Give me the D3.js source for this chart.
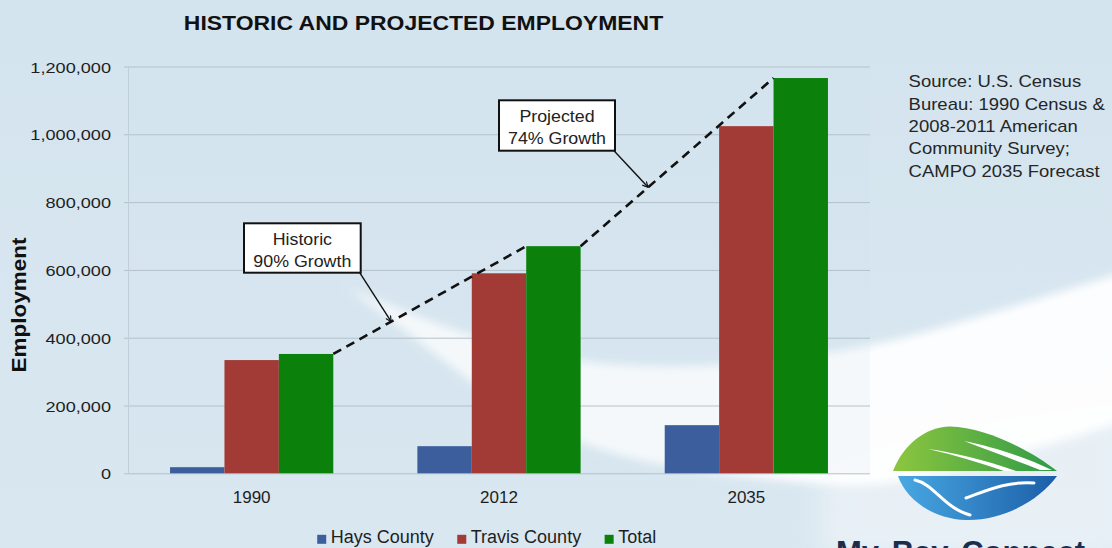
<!DOCTYPE html>
<html>
<head>
<meta charset="utf-8">
<script src="https://cdn.jsdelivr.net/npm/d3@7"></script>
<style>
  html, body { margin: 0; padding: 0; background: #d7e6ef; }
  svg { display: block; font-family: "Liberation Sans", Arial, Helvetica, sans-serif; }
</style>
</head>
<body>
<svg id="chart" width="1112" height="548"></svg>
<script>
// ---- data -------------------------------------------------------------
const years = ["1990", "2012", "2035"];
const seriesNames = ["Hays County", "Travis County", "Total"];
const haysCounty = [18000, 80000, 142000];
const travisCounty = [334000, 590000, 1024000];
const totalEmployment = [352000, 670000, 1166000];
const yTicks = [0, 200000, 400000, 600000, 800000, 1000000, 1200000];
const seriesColors = ["#3d5e9c", "#a23a36", "#0b800b"];
const sourceLines = [
  "Source: U.S. Census",
  "Bureau: 1990 Census &",
  "2008-2011 American",
  "Community Survey;",
  "CAMPO 2035 Forecast"
];

// ---- layout -----------------------------------------------------------
const W = 1112, H = 548;
const plot = { left: 128, right: 870, top: 66.5, bottom: 473.3 };

const svg = d3.select("#chart");
const defs = svg.append("defs");

// background wash
const bg = defs.append("linearGradient").attr("id", "bgGrad")
  .attr("x1", 0).attr("y1", 0).attr("x2", 0).attr("y2", 1);
bg.append("stop").attr("offset", 0).attr("stop-color", "#d4e4ee");
bg.append("stop").attr("offset", 1).attr("stop-color", "#d9e7f0");
svg.append("rect").attr("width", W).attr("height", H).attr("fill", "url(#bgGrad)");

// soft white sweep across the backdrop
defs.append("filter").attr("id", "soft").attr("x", "-20%").attr("y", "-50%")
  .attr("width", "140%").attr("height", "200%")
  .append("feGaussianBlur").attr("stdDeviation", 5);
defs.append("filter").attr("id", "softer").attr("x", "-20%").attr("y", "-50%")
  .attr("width", "140%").attr("height", "200%")
  .append("feGaussianBlur").attr("stdDeviation", 14);
const sweepTop = [[345, 286], [450, 328], [560, 358], [700, 366], [870, 345], [1000, 310], [1130, 270]];
const sweepBottom = [[1130, 420], [1000, 458], [880, 484], [760, 478], [620, 455], [520, 414], [420, 342]];
const curve = d3.line().curve(d3.curveCatmullRom);
// faint halo below the sweep, around the emblem
svg.append("path")
  .attr("d", "M820,470 C900,430 1000,420 1130,400 L1130,560 L820,560 Z")
  .attr("fill", "#eef4f8").attr("opacity", 0.7).attr("filter", "url(#softer)");
svg.append("path")
  .attr("d", curve(sweepTop) + "L" + curve(sweepBottom).slice(1) + "Z")
  .attr("fill", "#ffffff").attr("opacity", 0.95).attr("filter", "url(#soft)");

// ---- scales -----------------------------------------------------------
const x0 = d3.scaleBand().domain(years).range([plot.left, plot.right])
  .paddingInner(0.34).paddingOuter(0.17);
const x1 = d3.scaleBand().domain(seriesNames).range([0, x0.bandwidth()]).padding(0);
const y = d3.scaleLinear().domain([0, 1200000]).range([plot.bottom, plot.top]);

// a faint tint over the plotting area
svg.append("rect")
  .attr("x", plot.left).attr("y", plot.top).attr("width", plot.right - plot.left)
  .attr("height", plot.bottom - plot.top).attr("fill", "#d4e4ee").attr("opacity", 0.18);

// helper: text with a horizontal stretch factor
function stretchText(parent, x, y, str, size, sx, opts = {}) {
  return parent.append("text")
    .attr("transform", `translate(${x},${y}) scale(${sx},1)`)
    .attr("text-anchor", opts.anchor || "start")
    .attr("font-size", size)
    .attr("font-weight", opts.weight || "normal")
    .attr("fill", opts.fill || "#1e1e1e")
    .text(str);
}

// ---- gridlines & axes -------------------------------------------------
svg.append("g").selectAll("line").data(yTicks).join("line")
  .attr("x1", plot.left - 4).attr("x2", plot.right)
  .attr("y1", d => y(d) + 0.5).attr("y2", d => y(d) + 0.5)
  .attr("stroke", "#b4c1ca").attr("stroke-width", 1);
svg.append("line")
  .attr("x1", plot.left + 0.5).attr("x2", plot.left + 0.5)
  .attr("y1", plot.top).attr("y2", plot.bottom)
  .attr("stroke", "#c2ced6").attr("stroke-width", 1);

const yAxis = svg.append("g").attr("transform", `translate(${plot.left},0)`)
  .call(d3.axisLeft(y).tickValues(yTicks).tickSize(0).tickPadding(0)
    .tickFormat(d3.format(",")));
yAxis.select(".domain").remove();
yAxis.selectAll(".tick text")
  .attr("x", 0).attr("dy", "0.36em")
  .attr("transform", "translate(-17,0) scale(1.17,1)")
  .attr("font-size", 15.5).attr("fill", "#1e1e1e")
  .attr("font-family", "Liberation Sans, Arial, sans-serif");

const xAxis = svg.append("g").attr("transform", `translate(0,${plot.bottom})`)
  .call(d3.axisBottom(x0).tickSize(0).tickPadding(0));
xAxis.select(".domain").remove();
xAxis.selectAll(".tick text")
  .attr("y", 30).attr("dy", 0)
  .attr("font-size", 17).attr("fill", "#1e1e1e")
  .attr("font-family", "Liberation Sans, Arial, sans-serif");

// ---- bars -------------------------------------------------------------
const seriesValues = [haysCounty, travisCounty, totalEmployment];
const rows = years.map((yr, i) => ({
  year: yr,
  values: seriesNames.map((s, k) => ({ series: s, value: seriesValues[k][i], color: seriesColors[k] }))
}));
svg.append("g").selectAll("g").data(rows).join("g")
  .attr("transform", d => `translate(${x0(d.year)},0)`)
  .selectAll("rect").data(d => d.values).join("rect")
  .attr("x", d => x1(d.series))
  .attr("width", x1.bandwidth())
  .attr("y", d => y(d.value))
  .attr("height", d => y(0) - y(d.value))
  .attr("fill", d => d.color);

// ---- growth trend (dashed) -------------------------------------------
const totalTop = (i, side) => [x0(years[i]) + x1("Total") + (side === "r" ? x1.bandwidth() : 0), y(totalEmployment[i])];
const segA = [totalTop(0, "r"), totalTop(1, "l")];
const segB = [totalTop(1, "r"), totalTop(2, "l")];
[segA, segB].forEach(seg => {
  svg.append("line")
    .attr("x1", seg[0][0]).attr("y1", seg[0][1])
    .attr("x2", seg[1][0]).attr("y2", seg[1][1])
    .attr("stroke", "#111").attr("stroke-width", 2.6)
    .attr("stroke-dasharray", "9,6");
});

// ---- callouts ---------------------------------------------------------
defs.append("marker").attr("id", "arrowHead")
  .attr("viewBox", "0 0 10 10").attr("refX", 9).attr("refY", 5)
  .attr("markerWidth", 7).attr("markerHeight", 7).attr("orient", "auto")
  .attr("markerUnits", "userSpaceOnUse")
  .append("path").attr("d", "M1,1 L9,5 L1,9").attr("fill", "none")
  .attr("stroke", "#111").attr("stroke-width", 1.6);

const pct = (a, b) => Math.round((b / a - 1) * 100);
const callouts = [
  { lines: ["Historic", `${pct(totalEmployment[0], totalEmployment[1])}% Growth`],
    box: [244, 223.3, 116.7, 49.4], seg: segA, t: 0.30 },
  { lines: ["Projected", `${pct(totalEmployment[1], totalEmployment[2])}% Growth`],
    box: [499, 100.3, 116, 50.4], seg: segB, t: 0.35 }
];
callouts.forEach(c => {
  const [bx, by, bw, bh] = c.box;
  const tip = [c.seg[0][0] + c.t * (c.seg[1][0] - c.seg[0][0]),
               c.seg[0][1] + c.t * (c.seg[1][1] - c.seg[0][1])];
  svg.append("line")
    .attr("x1", bx + bw - 1).attr("y1", by + bh)
    .attr("x2", tip[0]).attr("y2", tip[1])
    .attr("stroke", "#111").attr("stroke-width", 1.4)
    .attr("marker-end", "url(#arrowHead)");
  svg.append("rect").attr("x", bx).attr("y", by).attr("width", bw).attr("height", bh)
    .attr("fill", "#ffffff").attr("stroke", "#111").attr("stroke-width", 2);
  c.lines.forEach((ln, i) => {
    stretchText(svg, bx + bw / 2, by + 22 + i * 21.5, ln, 16.5, 1.08, { anchor: "middle", fill: "#222" });
  });
});

// ---- titles -----------------------------------------------------------
stretchText(svg, 423.5, 29.5, "HISTORIC AND PROJECTED EMPLOYMENT", 20, 1.148,
  { anchor: "middle", weight: "bold", fill: "#111" });
svg.append("text")
  .attr("transform", `translate(25.5,${(plot.top + plot.bottom) / 2 + 35}) rotate(-90) scale(1.16,1)`)
  .attr("text-anchor", "middle").attr("font-size", 19.4).attr("font-weight", "bold")
  .attr("fill", "#111").text("Employment");

// ---- legend -----------------------------------------------------------
const legend = svg.append("g");
let lx = 0;
seriesNames.forEach((name, k) => {
  const g = legend.append("g").attr("transform", `translate(${lx},0)`);
  g.append("rect").attr("x", 0).attr("y", -8.5).attr("width", 9).attr("height", 9)
    .attr("fill", seriesColors[k]);
  const t = g.append("text").attr("x", 13.5).attr("y", 0).attr("font-size", 18)
    .attr("fill", "#1e1e1e").text(name);
  lx += 13.5 + t.node().getComputedTextLength() + 23.5;
});
const legendWidth = lx - 23.5;
legend.attr("transform", `translate(${486.7 - legendWidth / 2},543.3)`);

// ---- source note ------------------------------------------------------
sourceLines.forEach((ln, i) => {
  stretchText(svg, 908.6, 87.4 + i * 22.3, ln, 15.8, 1.17, { fill: "#262626" });
});

// ---- logo -------------------------------------------------------------
const logo = svg.append("g");
const gGreen = defs.append("linearGradient").attr("id", "leafGreen")
  .attr("x1", 0).attr("y1", 0).attr("x2", 1).attr("y2", 0);
gGreen.append("stop").attr("offset", 0).attr("stop-color", "#8dc63f");
gGreen.append("stop").attr("offset", 1).attr("stop-color", "#2f9a47");
const gBlue = defs.append("linearGradient").attr("id", "leafBlue")
  .attr("x1", 0).attr("y1", 0).attr("x2", 1).attr("y2", 0);
gBlue.append("stop").attr("offset", 0).attr("stop-color", "#48a8e2");
gBlue.append("stop").attr("offset", 1).attr("stop-color", "#1c5ea8");

logo.append("path")
  .attr("d", "M893,471 C903,445 925,427 950,426.5 C985,427 1030,450 1057,471 Z")
  .attr("fill", "url(#leafGreen)");
logo.append("path")
  .attr("d", "M928,449 C952,452 985,460 1016,471 L1004,471 C980,463 955,455 928,449 Z")
  .attr("fill", "#ffffff");
logo.append("path")
  .attr("d", "M964,441 C990,446 1022,456 1052,470 L1040,470 C1015,460 990,451 964,441 Z")
  .attr("fill", "#ffffff");
logo.append("path")
  .attr("d", "M898,476 L1057,476 C1040,500 1003,521 966,520 C932,519 906,499 898,476 Z")
  .attr("fill", "url(#leafBlue)");
logo.append("path")
  .attr("d", "M915,480 C934,484 944,508 970,515")
  .attr("fill", "none").attr("stroke", "#ffffff").attr("stroke-width", 3).attr("stroke-linecap", "round");
logo.append("path")
  .attr("d", "M966,498 C988,490 1008,481 1034,483")
  .attr("fill", "none").attr("stroke", "#ffffff").attr("stroke-width", 3).attr("stroke-linecap", "round");
svg.append("text").attr("x", 836).attr("y", 563).attr("font-size", 31).attr("font-weight", "bold")
  .attr("fill", "#1b2d4f").attr("word-spacing", 4).text("My Bay Connect");
</script>
</body>
</html>
